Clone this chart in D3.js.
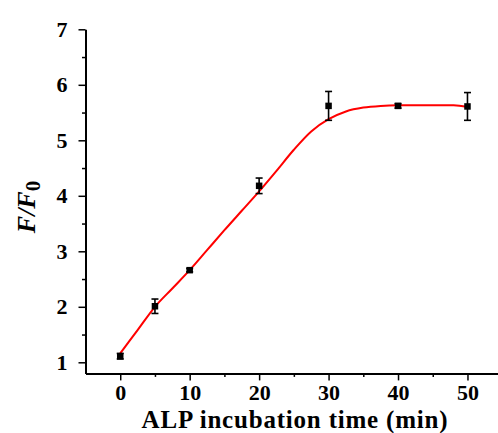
<!DOCTYPE html>
<html>
<head>
<meta charset="utf-8">
<script src="https://cdn.jsdelivr.net/npm/d3@7"></script>
<style>
  html, body { margin: 0; padding: 0; background: #fff; }
  svg { display: block; }
  .axis path, .axis line { stroke: #000; }
  .axis path { stroke-width: 2; }
  .axis line { stroke-width: 1.5; }
  .axis text {
    font-family: "Liberation Serif", "Times New Roman", serif;
    font-weight: bold; font-size: 22px; fill: #000;
  }
  .axis-title {
    font-family: "Liberation Serif", "Times New Roman", serif;
    font-weight: bold; fill: #000;
  }
</style>
</head>
<body>
<svg id="chart" width="498" height="433"></svg>
<script>
/* ---------- data ---------- */
const times   = [0, 5, 10, 20, 30, 40, 50];                    // min
const ratios  = [1.11, 2.01, 2.66, 4.18, 5.62, 5.62, 5.61];    // F/F0
const errors  = [0.05, 0.13, 0.03, 0.14, 0.26, 0.04, 0.25];

// red fitted curve, traced by eye
const fitX = [0, 2.5, 5, 7.5, 10, 12.5, 15, 17.5, 20, 22.5, 25, 27.5, 30, 32.5, 35, 37.5, 40, 45, 48, 50];
const fitY = [1.16, 1.58, 2.0, 2.33, 2.66, 3.02, 3.38, 3.73, 4.08, 4.45, 4.83, 5.16, 5.38, 5.52, 5.59, 5.62, 5.63, 5.63, 5.63, 5.6];

const xMajor = [0, 10, 20, 30, 40, 50];
const xMinor = [5, 15, 25, 35, 45, 55];
const yMajor = [1, 2, 3, 4, 5, 6, 7];
const yMinor = [1.5, 2.5, 3.5, 4.5, 5.5, 6.5];

/* ---------- scales ---------- */
const svg = d3.select("#chart");

const xScale = d3.scaleLinear().domain([-5, 55]).range([85.5, 502.2]);
const yScale = d3.scaleLinear().domain([0.8, 7]).range([373.4, 29.3]);
const x0 = xScale(-5), y0 = yScale(0.8);

/* ---------- axes ---------- */
svg.append("g").attr("class", "axis")
  .attr("transform", `translate(0,${y0})`)
  .call(d3.axisBottom(xScale).tickValues(xMinor).tickSize(3.5).tickFormat(""))
  .select(".domain").remove();

svg.append("g").attr("class", "axis")
  .attr("transform", `translate(0,${y0})`)
  .call(d3.axisBottom(xScale).tickValues(xMajor).tickSize(7).tickSizeOuter(0).tickPadding(4)
    .tickFormat(d3.format("d")));

svg.append("g").attr("class", "axis")
  .attr("transform", `translate(${x0},0)`)
  .call(d3.axisLeft(yScale).tickValues(yMinor).tickSize(3.5).tickFormat(""))
  .select(".domain").remove();

svg.append("g").attr("class", "axis")
  .attr("transform", `translate(${x0},0)`)
  .call(d3.axisLeft(yScale).tickValues(yMajor).tickSize(7).tickSizeOuter(0).tickPadding(11)
    .tickFormat(d3.format("d")));

/* ---------- axis titles ---------- */
svg.append("text").attr("class", "axis-title")
  .attr("x", 295).attr("y", 428).attr("text-anchor", "middle")
  .style("font-size", "25px").style("letter-spacing", "0.8px")
  .text("ALP incubation time (min)");

const yt = svg.append("text").attr("class", "axis-title")
  .attr("transform", "translate(35,207) rotate(-90)")
  .attr("text-anchor", "middle")
  .style("font-size", "26px");
yt.append("tspan").style("font-style", "italic").text("F/F");
yt.append("tspan").attr("dy", 5).style("font-size", "21px").text("0");

/* ---------- fit curve ---------- */
const fit = fitX.map((x, i) => [x, fitY[i]]);
svg.append("path")
  .datum(fit)
  .attr("fill", "none")
  .attr("stroke", "#ff0000")
  .attr("stroke-width", 2)
  .attr("d", d3.line().x(d => xScale(d[0])).y(d => yScale(d[1])).curve(d3.curveMonotoneX));

/* ---------- points + error bars ---------- */
const pts = times.map((t, i) => ({ t, v: ratios[i], e: errors[i] }));
const eb = svg.append("g").attr("stroke", "#000").attr("stroke-width", 1.6);
const cap = 3.5;

eb.selectAll(".bar").data(pts).join("line")
  .attr("x1", d => xScale(d.t)).attr("x2", d => xScale(d.t))
  .attr("y1", d => yScale(d.v - d.e)).attr("y2", d => yScale(d.v + d.e));
eb.selectAll(".capTop").data(pts).join("line")
  .attr("x1", d => xScale(d.t) - cap).attr("x2", d => xScale(d.t) + cap)
  .attr("y1", d => yScale(d.v + d.e)).attr("y2", d => yScale(d.v + d.e));
eb.selectAll(".capBot").data(pts).join("line")
  .attr("x1", d => xScale(d.t) - cap).attr("x2", d => xScale(d.t) + cap)
  .attr("y1", d => yScale(d.v - d.e)).attr("y2", d => yScale(d.v - d.e));

const sq = 6.5;
svg.append("g").selectAll("rect").data(pts).join("rect")
  .attr("x", d => xScale(d.t) - sq / 2)
  .attr("y", d => yScale(d.v) - sq / 2)
  .attr("width", sq).attr("height", sq)
  .attr("fill", "#000");
</script>
</body>
</html>
